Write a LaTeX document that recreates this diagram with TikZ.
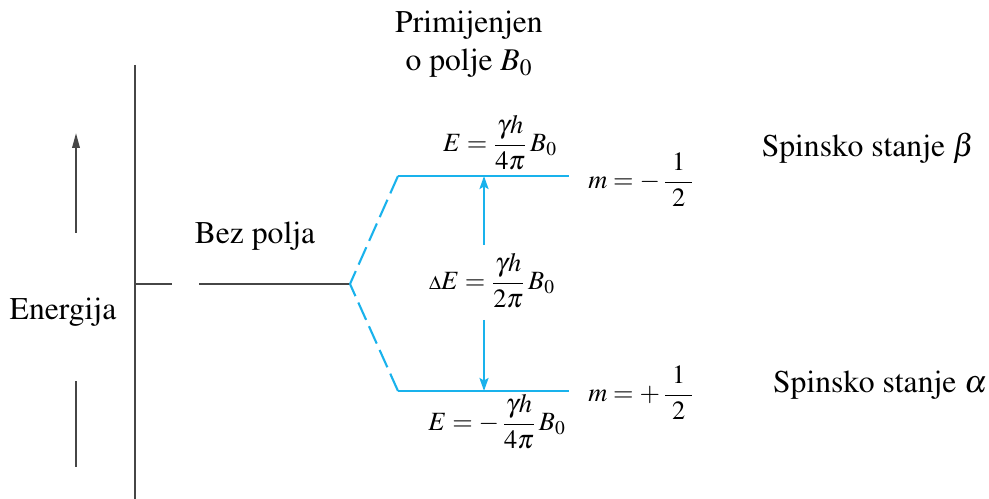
\documentclass[tikz,border=0pt]{standalone}
\usepackage[T1]{fontenc}
\usepackage{mathptmx}
\usetikzlibrary{arrows.meta, positioning}
\definecolor{levelblue}{RGB}{25, 178, 236}
\definecolor{axisgray}{RGB}{70, 70, 70}
\newcommand{\halfwide}{\frac{\kern4pt 1\kern4pt}{\kern4pt 2\kern4pt}}

\begin{document}
\begin{tikzpicture}[x=0.02cm, y=-0.02cm,
    axisline/.style={axisgray, line width=1.1pt},
    level/.style={levelblue, line width=1.2pt},
    splitline/.style={level, dash pattern=on 0.38cm off 0.14cm},
    gap/.style={level, -{Stealth[length=0.26cm, width=0.18cm, inset=0.05cm]}},
    label/.style={font=\fontsize{18}{21.6}\selectfont, inner sep=0pt},
    formula/.style={font=\fontsize{15}{17}\selectfont, inner sep=0pt}]
    \useasboundingbox (0,0) rectangle (989,499);

    % Energy axis
    \coordinate (axtop) at (135,65);
    \coordinate (axbot) at (135,499);
    \draw[axisline] (axtop) -- (axbot);

    % Energy arrow with its label
    \node[label] (energy) at (63,312) {Energija};
    \coordinate (up0) at (76,233);
    \coordinate (up1) at (76,133);
    \coordinate (dn0) at (76,381);
    \coordinate (dn1) at (76,467);
    \draw[axisline, -{Triangle[length=0.3cm, width=0.15cm]}] (up0) -- (up1);
    \draw[axisline] (dn0) -- (dn1);

    % Zero field level
    \coordinate (zf0) at (135,284);
    \coordinate (zf1) at (172,284);
    \coordinate (zf2) at (199,284);
    \coordinate (split) at (350,284);
    \draw[axisline] (zf0) -- (zf1);
    \draw[axisline] (zf2) -- (split);
    \node[label] (nofield) at (255,236) {Bez polja};

    % Split levels in the applied field
    \coordinate (betaL) at (398,176);
    \coordinate (betaR) at (569,176);
    \coordinate (alphaL) at (398,391);
    \coordinate (alphaR) at (569,391);
    \draw[splitline] (betaL) -- (split);
    \draw[splitline] (alphaL) -- (split);
    \draw[level] (betaL) -- (betaR);
    \draw[level] (alphaL) -- (alphaR);
    \node[label, align=center] (applied) at (469,44) {Primijenjen\\o polje $B_0$};

    % Energy gap
    \node[formula] (dE) at (492,281) {$\scriptstyle\Delta\displaystyle E=\frac{\gamma h}{2\pi}\,B_0$};
    \coordinate (dEtop) at (484,176);
    \coordinate (dEup) at (484,245);
    \coordinate (dElo) at (484,320);
    \coordinate (dEbot) at (484,391);
    \draw[gap] (dEup) -- (dEtop);
    \draw[gap] (dElo) -- (dEbot);

    % Level energies and quantum numbers
    \node[formula] (Ebeta) at (500,143) {$\displaystyle E=\frac{\gamma h}{4\pi}\,B_0$};
    \node[formula] (Ealpha) at (497,422) {$\displaystyle E=-\,\frac{\gamma h}{4\pi}\,B_0$};
    \node[formula, anchor=west] (mbeta) at (588,180) {$\displaystyle m=-\,\halfwide$};
    \node[formula, anchor=west] (malpha) at (588,393) {$\displaystyle m=+\,\halfwide$};

    % Spin states
    \node[label] (beta) at (868,148) {Spinsko stanje $\beta$};
    \node[label] (alpha) at (880,385) {Spinsko stanje $\alpha$};
\end{tikzpicture}
\end{document}
